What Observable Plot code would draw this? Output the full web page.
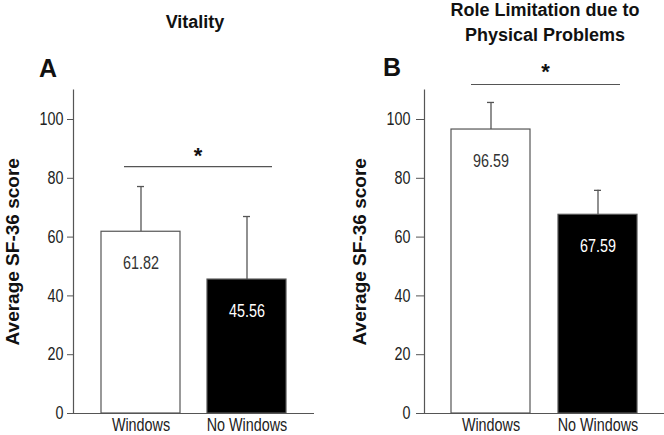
<!DOCTYPE html>
<html>
<head>
<meta charset="utf-8">
<script src="https://cdn.jsdelivr.net/npm/d3@7"></script>
<script src="https://cdn.jsdelivr.net/npm/@observablehq/plot@0.6"></script>
<style>
  html, body { margin: 0; padding: 0; background: #fff; }
  #wrap { position: relative; width: 664px; height: 435px; overflow: hidden; font-family: "Liberation Sans", Arial, sans-serif; }
  .panel { position: absolute; top: 0; }
  .title { position: absolute; font-weight: bold; font-size: 18px; color: #111; text-align: center; line-height: 25px; white-space: nowrap; transform: translateX(-50%); }
  .letter { position: absolute; font-weight: bold; font-size: 25px; color: #111; line-height: 1; }
</style>
</head>
<body>
<div id="wrap"></div>
<script>
// ---- data ----
const categories = ["Windows", "No Windows"];
const vitalityMeans = [61.82, 45.56];
const vitalityUpper = [77.2, 67.0];
const roleMeans = [96.59, 67.59];
const roleUpper = [105.8, 75.9];
const panelTitles = ["Vitality", "Role Limitation due to\nPhysical Problems"];
const panelLetters = ["A", "B"];
const sigLevels = [84, 111.9];
const yTicks = [0, 20, 40, 60, 80, 100];
const yLabel = "Average SF-36 score";

const sans = '"Liberation Sans", Arial, sans-serif';
const wrap = document.getElementById("wrap");

function makePanel(means, upper, sig, opts) {
  const rows = categories.map((c, i) => ({cat: c, mean: means[i], upper: upper[i]}));
  return Plot.plot({
    width: 332,
    height: 435,
    marginTop: 89.6,
    marginBottom: 22,
    marginLeft: opts.marginLeft,
    marginRight: opts.marginRight,
    style: {fontFamily: sans, fontSize: "17.5px", color: "#222", background: "transparent"},
    x: {domain: categories, paddingInner: opts.pi, paddingOuter: opts.po, label: null},
    y: {domain: [0, 110], label: null},
    marks: [
      Plot.axisX({tickSize: 0, tickPadding: 5, fontSize: 17.5, fill: "#222", className: "narrow"}),
      Plot.axisY({ticks: yTicks, tickSize: opts.tickSize, tickPadding: opts.tickPadding, stroke: "#555", fontSize: 17.5, fill: "#222", label: null, className: "narrow"}),
      Plot.text([yLabel], {text: d => d, frameAnchor: "left", textAnchor: "middle", lineAnchor: "middle", rotate: -90, dx: opts.labelDx, fontSize: 19, fontWeight: "bold", fill: "#111"}),
      Plot.ruleX(rows, {x: "cat", y1: "mean", y2: "upper", stroke: "#555", strokeWidth: 1.3}),
      Plot.tickY(rows, {x: "cat", y: "upper", stroke: "#555", strokeWidth: 1.3, insetLeft: 36, insetRight: 36}),
      Plot.barY(rows, {x: "cat", y: "mean", fill: (d, i) => i === 0 ? "#fff" : "#000", stroke: "#555", strokeWidth: 1.2}),
      Plot.text(rows, {x: "cat", y: "mean", text: d => d.mean.toFixed(2), dy: 32, fill: (d, i) => i === 0 ? "#333" : "#fff", fontSize: 17.5, className: "narrow"}),
      Plot.frame({anchor: "left", stroke: "#555", strokeWidth: 1.2}),
      Plot.ruleY([0], {stroke: "#555", strokeWidth: 1.2, insetLeft: -opts.tickSize}),
      Plot.ruleY([sig], {stroke: "#555", strokeWidth: 1.2, insetLeft: opts.sigL, insetRight: opts.sigR}),
      Plot.text([sig], {y: d => d, text: () => "*", dy: opts.starDy, dx: opts.starDx, lineAnchor: "bottom", fontSize: 22, fontWeight: "bold", fill: "#111"})
    ]
  });
}

const chartA = makePanel(vitalityMeans, vitalityUpper, sigLevels[0],
  {marginLeft: 73, marginRight: 18, pi: 0.255, po: 0.264, tickSize: 6, tickPadding: 4, sigL: 51, sigR: 42, starDx: 4, starDy: -4, labelDx: -61});
const chartB = makePanel(roleMeans, roleUpper, sigLevels[1],
  {marginLeft: 92, marginRight: 0, pi: 0.26, po: 0.25, tickSize: 8, tickPadding: 6, sigL: 47, sigR: 44, starDx: 1, starDy: -6, labelDx: -65});

[chartA, chartB].forEach((c, i) => {
  c.classList.add("panel");
  c.style.left = (i * 332) + "px";
  wrap.appendChild(c);
});

// condense the narrow-styled labels (Arial Narrow look) via textLength
wrap.querySelectorAll(".narrow text").forEach(t => {
  const len = t.getComputedTextLength();
  t.setAttribute("textLength", (len * 0.82).toFixed(2));
  t.setAttribute("lengthAdjust", "spacingAndGlyphs");
});

// titles and panel letters
const titlePos = [{x: 195, y: 10}, {x: 545, y: -2}];
const letterPos = [{x: 39, y: 56}, {x: 383, y: 55}];
panelTitles.forEach((t, i) => {
  const d = document.createElement("div");
  d.className = "title";
  d.style.left = titlePos[i].x + "px";
  d.style.top = titlePos[i].y + "px";
  d.innerHTML = t.split("\n").join("<br>");
  wrap.appendChild(d);
  const l = document.createElement("div");
  l.className = "letter";
  l.style.left = letterPos[i].x + "px";
  l.style.top = letterPos[i].y + "px";
  l.textContent = panelLetters[i];
  wrap.appendChild(l);
});
</script>
</body>
</html>
